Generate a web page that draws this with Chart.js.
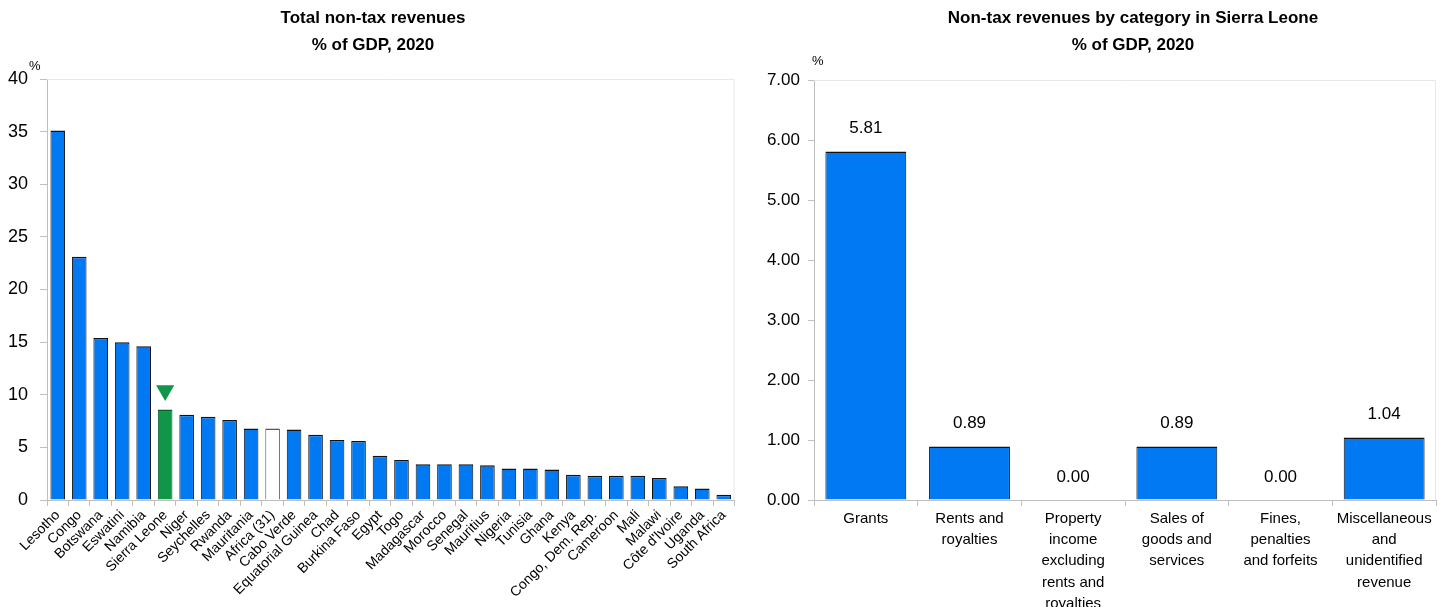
<!DOCTYPE html>
<html>
<head>
<meta charset="utf-8">
<script src="https://cdn.jsdelivr.net/npm/chart.js@4.4.1/dist/chart.umd.min.js"></script>
<style>
  body { margin: 0; background: #fff; font-family: Arial, "Liberation Sans", sans-serif; }
  #wrap { position: relative; width: 1447px; height: 607px; overflow: hidden; }
  canvas { position: absolute; top: 0; }
  .title { position: absolute; top: 4px; font-weight: bold; font-size: 17px; line-height: 27px;
           text-align: center; white-space: nowrap; transform: translateX(-50%); color: #000; }
  .unit { position: absolute; font-size: 13px; color: #000; }
</style>
</head>
<body>
<div id="wrap">
  <canvas id="left-chart" width="745" height="607" style="left:0"></canvas>
  <canvas id="right-chart" width="702" height="607" style="left:745px"></canvas>
  <div class="title" style="left:373px">Total non-tax revenues<br>% of GDP, 2020</div>
  <div class="title" style="left:1133px">Non-tax revenues by category in Sierra Leone<br>% of GDP, 2020</div>
  <div class="unit" style="left:29px; top:58px">%</div>
  <div class="unit" style="left:812px; top:53px">%</div>
</div>
<script>
// --- Datos: gráfico izquierdo (total ingresos no tributarios) ---
const countries = ['Lesotho', 'Congo', 'Botswana', 'Eswatini', 'Namibia', 'Sierra Leone', 'Niger',
  'Seychelles', 'Rwanda', 'Mauritania', 'Africa (31)', 'Cabo Verde', 'Equatorial Guinea', 'Chad',
  'Burkina Faso', 'Egypt', 'Togo', 'Madagascar', 'Morocco', 'Senegal', 'Mauritius', 'Nigeria',
  'Tunisia', 'Ghana', 'Kenya', 'Congo, Dem. Rep.', 'Cameroon', 'Mali', 'Malawi', "Côte d'Ivoire",
  'Uganda', 'South Africa'];
const totalValues = [35.1, 23.1, 15.4, 15.0, 14.6, 8.6, 8.1, 7.9, 7.6, 6.8, 6.8, 6.7, 6.2, 5.7,
  5.6, 4.2, 3.8, 3.4, 3.4, 3.4, 3.3, 3.0, 3.0, 2.9, 2.4, 2.3, 2.3, 2.3, 2.1, 1.3, 1.1, 0.5];
const leftTicks = [0, 5, 10, 15, 20, 25, 30, 35, 40];
const highlightCountry = 'Sierra Leone';
const averageLabel = 'Africa (31)';
const markerValue = 10.4;

// --- Datos: gráfico derecho (categorías en Sierra Leona) ---
const categories = [
  ['Grants'],
  ['Rents and', 'royalties'],
  ['Property', 'income', 'excluding', 'rents and', 'royalties'],
  ['Sales of', 'goods and', 'services'],
  ['Fines,', 'penalties', 'and forfeits'],
  ['Miscellaneous', 'and', 'unidentified', 'revenue']
];
const categoryValues = [5.81, 0.89, 0.00, 0.89, 0.00, 1.04];
const rightTicks = [0, 1, 2, 3, 4, 5, 6, 7];

// Colores
const blue = '#0079F2';
const green = '#0F9649';
const axisColor = '#BFBFBF';
const borderLight = '#E8E8E8';
const fontFamily = 'Arial, "Liberation Sans", sans-serif';

// Borde superior y derecho del área del gráfico
const frameLines = {
  id: 'frameLines',
  beforeDatasetsDraw(chart) {
    const { ctx, chartArea: a } = chart;
    ctx.save();
    ctx.strokeStyle = borderLight;
    ctx.lineWidth = 1;
    ctx.beginPath();
    ctx.moveTo(a.left, a.top + 0.5);
    ctx.lineTo(a.right - 0.5, a.top + 0.5);
    ctx.lineTo(a.right - 0.5, a.bottom);
    ctx.stroke();
    ctx.restore();
  }
};

// Etiquetas de valores encima de las barras
const valueLabels = {
  id: 'valueLabels',
  afterDatasetsDraw(chart) {
    const { ctx } = chart;
    const meta = chart.getDatasetMeta(0);
    ctx.save();
    ctx.font = '17px ' + fontFamily;
    ctx.fillStyle = '#000';
    ctx.textAlign = 'center';
    ctx.textBaseline = 'middle';
    meta.data.forEach((bar, i) => {
      ctx.fillText(categoryValues[i].toFixed(2), bar.x, bar.y - 23);
    });
    ctx.restore();
  }
};

// --- Gráfico izquierdo ---
const barColors = countries.map(c => c === highlightCountry ? green : (c === averageLabel ? '#FFFFFF' : blue));
const barBorders = countries.map(c => c === averageLabel ? '#555555' : (c === highlightCountry ? '#0A5E2E' : '#111111'));
const markerData = countries.map(c => c === highlightCountry ? markerValue : null);

new Chart(document.getElementById('left-chart'), {
  type: 'bar',
  data: {
    labels: countries,
    datasets: [{
      data: totalValues,
      backgroundColor: barColors,
      borderColor: barBorders,
      borderWidth: { top: 1.5, left: 1, right: 1, bottom: 0 },
      categoryPercentage: 1,
      barPercentage: 0.68,
      order: 2
    }, {
      type: 'line',
      data: markerData,
      showLine: false,
      pointStyle: 'triangle',
      rotation: 180,
      pointRadius: 10.5,
      pointBackgroundColor: green,
      pointBorderColor: green,
      pointBorderWidth: 0,
      order: 1
    }]
  },
  options: {
    responsive: false,
    animation: false,
    layout: { padding: { left: 0, right: 9, top: 79, bottom: 0 } },
    plugins: { legend: { display: false }, tooltip: { enabled: false } },
    scales: {
      x: {
        offset: true,
        grid: { offset: true, drawOnChartArea: false, drawTicks: true, tickLength: 6, color: axisColor },
        border: { color: axisColor },
        ticks: { color: '#000', font: { size: 14, family: fontFamily }, minRotation: 45, maxRotation: 45, autoSkip: false, padding: 1 },
        afterFit(scale) { scale.height = 107; }
      },
      y: {
        min: 0, max: 40,
        afterBuildTicks(scale) { scale.ticks = leftTicks.map(v => ({ value: v })); },
        grid: { drawOnChartArea: false, drawTicks: true, tickLength: 7, color: axisColor },
        border: { color: axisColor },
        ticks: { color: '#000', font: { size: 18, family: fontFamily }, padding: 12 },
        afterFit(scale) { scale.width = 47; }
      }
    }
  },
  plugins: [frameLines]
});

// --- Gráfico derecho ---
new Chart(document.getElementById('right-chart'), {
  type: 'bar',
  data: {
    labels: categories,
    datasets: [{
      data: categoryValues,
      backgroundColor: blue,
      borderColor: '#111111',
      borderWidth: { top: 1.5, left: 1, right: 1, bottom: 0 },
      categoryPercentage: 1,
      barPercentage: 0.78
    }]
  },
  options: {
    responsive: false,
    animation: false,
    layout: { padding: { left: 0, right: 11, top: 80, bottom: 0 } },
    plugins: { legend: { display: false }, tooltip: { enabled: false } },
    scales: {
      x: {
        offset: true,
        grid: { offset: true, drawOnChartArea: false, drawTicks: true, tickLength: 6, color: axisColor },
        border: { color: axisColor },
        ticks: { color: '#000', font: { size: 15, family: fontFamily, lineHeight: 1.42 }, maxRotation: 0, autoSkip: false, padding: 2 },
        afterFit(scale) { scale.height = 107; }
      },
      y: {
        min: 0, max: 7,
        afterBuildTicks(scale) { scale.ticks = rightTicks.map(v => ({ value: v })); },
        grid: { drawOnChartArea: false, drawTicks: true, tickLength: 6, color: axisColor },
        border: { color: axisColor },
        ticks: { color: '#000', font: { size: 17, family: fontFamily }, padding: 8, callback: v => Number(v).toFixed(2) },
        afterFit(scale) { scale.width = 69; }
      }
    }
  },
  plugins: [frameLines, valueLabels]
});
</script>
</body>
</html>
